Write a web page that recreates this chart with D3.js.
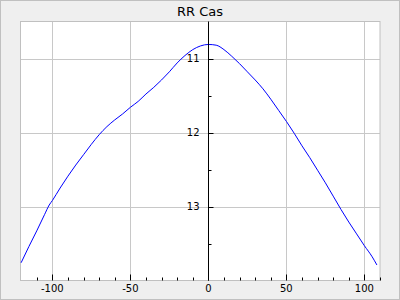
<!DOCTYPE html>
<html><head><meta charset="utf-8">
<script src="https://cdn.jsdelivr.net/npm/d3@7"></script>
<style>body{margin:0;background:#efefef;}svg{display:block;}</style>
</head><body>
<svg id="c" width="400" height="300"></svg>
<script>
const title = "RR Cas";
const phase = [-120,-115,-110,-105,-102,-100,-95,-90,-85,-80,-75,-70,-65,-60,-55,-50,-45,-40,-35,-30,-25,-20,-15,-10,-5,0,5,10,15,20,25,30,35,40,45,50,55,60,65,70,75,80,85,90,95,100,105,108];
const mag = [13.76,13.54,13.33,13.11,12.98,12.92,12.75,12.59,12.44,12.30,12.16,12.03,11.92,11.83,11.75,11.66,11.58,11.48,11.39,11.29,11.18,11.06,10.96,10.88,10.83,10.81,10.82,10.88,10.97,11.07,11.18,11.29,11.41,11.55,11.70,11.85,12.01,12.18,12.34,12.51,12.68,12.86,13.04,13.21,13.37,13.53,13.68,13.79];
const xMajor = [-100,-50,0,50,100];
const xMinor = d3.range(-110,111,10);
const yMajor = [11,12,13];
const yMinor = [11.5,12.5,13.5];

const svg = d3.select("#c");
const L=20.5,R=380,T=21.5,B=280.5;
const x = d3.scaleLinear().domain([-120.4,110]).range([L,R]);
const y = d3.scaleLinear().domain([10.5,14]).range([T,B]);

svg.append("rect").attr("x",0.5).attr("y",0.5).attr("width",399).attr("height",299)
  .attr("fill","#efefef").attr("stroke","#c0c0c0");
svg.append("rect").attr("x",L).attr("y",T).attr("width",R-L).attr("height",B-T)
  .attr("fill","#fff");

const g = svg.append("g");
g.selectAll(".vg").data(xMajor.filter(d=>d!==0)).enter().append("line")
  .attr("x1",d=>Math.round(x(d))+0.5).attr("x2",d=>Math.round(x(d))+0.5)
  .attr("y1",T).attr("y2",B).attr("stroke","#c8c8c8");
g.selectAll(".hg").data(yMajor).enter().append("line")
  .attr("y1",d=>Math.round(y(d))+0.5).attr("y2",d=>Math.round(y(d))+0.5)
  .attr("x1",L).attr("x2",R).attr("stroke","#c8c8c8");
svg.append("rect").attr("x",L).attr("y",T).attr("width",R-L).attr("height",B-T)
  .attr("fill","none").attr("stroke","#c0c0c0");

const line = d3.line().x((d,i)=>x(phase[i])).y(d=>y(d)).curve(d3.curveMonotoneX);
svg.append("path").attr("d",line(mag)).attr("fill","none").attr("stroke","#0000ff")
  .attr("stroke-width",1);

const x0 = Math.round(x(0))+0.5;
svg.append("line").attr("x1",x0).attr("x2",x0).attr("y1",T).attr("y2",B).attr("stroke","#000");
svg.selectAll(".ytM").data(yMajor).enter().append("line")
  .attr("x1",x0).attr("x2",x0+5).attr("y1",d=>Math.round(y(d))+0.5).attr("y2",d=>Math.round(y(d))+0.5).attr("stroke","#000");
svg.selectAll(".ytm").data(yMinor).enter().append("line")
  .attr("x1",x0).attr("x2",x0+3).attr("y1",d=>Math.round(y(d))+0.5).attr("y2",d=>Math.round(y(d))+0.5).attr("stroke","#000");
svg.selectAll(".yl").data(yMajor).enter().append("text")
  .attr("x",x0-9).attr("y",d=>y(d)+3).attr("text-anchor","end")
  .attr("font-family","DejaVu Sans").attr("font-size",10).attr("fill","#000").text(d=>d);

svg.selectAll(".xtM").data(xMajor).enter().append("line")
  .attr("x1",d=>Math.round(x(d))+0.5).attr("x2",d=>Math.round(x(d))+0.5)
  .attr("y1",B).attr("y2",B-6).attr("stroke","#000");
svg.selectAll(".xtm").data(xMinor.filter(d=>d%50!==0)).enter().append("line")
  .attr("x1",d=>Math.round(x(d))+0.5).attr("x2",d=>Math.round(x(d))+0.5)
  .attr("y1",B).attr("y2",B-3).attr("stroke","#000");
svg.selectAll(".xl").data(xMajor).enter().append("text")
  .attr("x",d=>x(d)).attr("y",291.7).attr("text-anchor","middle")
  .attr("font-family","DejaVu Sans").attr("font-size",10).attr("fill","#000").text(d=>d);

svg.append("text").attr("x",200).attr("y",16).attr("text-anchor","middle")
  .attr("font-family","DejaVu Sans").attr("font-size",13).attr("fill","#000").text(title);
</script>
</body></html>
